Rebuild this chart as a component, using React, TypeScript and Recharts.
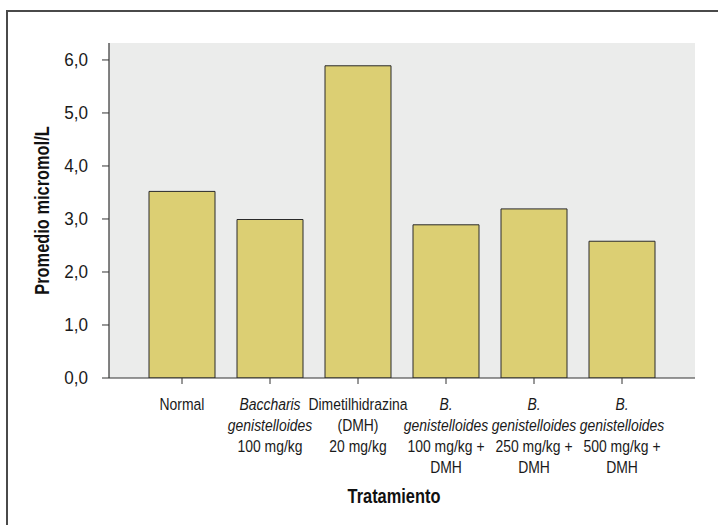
import React from 'react';
import { BarChart, Bar, XAxis, YAxis, CartesianGrid, Label } from 'recharts';

const categories = ['normal', 'baccharis', 'dmh', 'bg100', 'bg250', 'bg500'];
const values = [3.52, 2.99, 5.89, 2.89, 3.19, 2.58];
const tickLines: { t: string; i: boolean }[][] = [
  [{ t: 'Normal', i: false }],
  [{ t: 'Baccharis', i: true }, { t: 'genistelloides', i: true }, { t: '100 mg/kg', i: false }],
  [{ t: 'Dimetilhidrazina', i: false }, { t: '(DMH)', i: false }, { t: '20 mg/kg', i: false }],
  [{ t: 'B.', i: true }, { t: 'genistelloides', i: true }, { t: '100 mg/kg +', i: false }, { t: 'DMH', i: false }],
  [{ t: 'B.', i: true }, { t: 'genistelloides', i: true }, { t: '250 mg/kg +', i: false }, { t: 'DMH', i: false }],
  [{ t: 'B.', i: true }, { t: 'genistelloides', i: true }, { t: '500 mg/kg +', i: false }, { t: 'DMH', i: false }],
];
const yTicks = [0, 1, 2, 3, 4, 5, 6];
const xTitle = 'Tratamiento';
const yTitle = 'Promedio micromol/L';

const data = categories.map((c, idx) => ({ cat: c, value: values[idx] }));

const FONT = "'Liberation Sans', Arial, sans-serif";
const NARROW = 0.82;

const XTick = (props: any) => {
  const { x, y, payload } = props;
  const idx = categories.indexOf(payload.value);
  const lines = tickLines[idx] || [];
  return (
    <g transform={`translate(${x},${y}) scale(${NARROW},1)`}>
      <text x={0} y={0} textAnchor="middle" fontFamily={FONT} fontSize={17} fill="#1a1a1a">
        {lines.map((l, k) => (
          <tspan key={k} x={0} y={24 + k * 21} fontStyle={l.i ? 'italic' : 'normal'}>
            {l.t}
          </tspan>
        ))}
      </text>
    </g>
  );
};

const YTick = (props: any) => {
  const { x, y, payload } = props;
  const label = Number(payload.value).toFixed(1).replace('.', ',');
  return (
    <g transform={`translate(${x},${y}) scale(0.95,1)`}>
      <text x={0} y={0} dy="0.36em" textAnchor="end" fontFamily={FONT} fontSize={18} fill="#1a1a1a">
        {label}
      </text>
    </g>
  );
};

const XTitle = (props: any) => {
  const vb = props.viewBox || {};
  const cx = vb.x + vb.width / 2 - 8;
  const by = vb.y + 125;
  return (
    <g transform={`translate(${cx},${by}) scale(${NARROW},1)`}>
      <text x={0} y={0} textAnchor="middle" fontFamily={FONT} fontSize={20} fontWeight={700} fill="#111">
        {xTitle}
      </text>
    </g>
  );
};

const YTitle = (props: any) => {
  const vb = props.viewBox || {};
  const cx = vb.x + 42;
  const cy = vb.y + vb.height / 2;
  return (
    <g transform={`translate(${cx},${cy}) rotate(-90) scale(${NARROW},1)`}>
      <text x={0} y={0} dy="0.36em" textAnchor="middle" fontFamily={FONT} fontSize={20} fontWeight={700} fill="#111">
        {yTitle}
      </text>
    </g>
  );
};

export default function App() {
  return (
    <div style={{ position: 'fixed', left: 0, top: 0, width: 718, height: 525, overflow: 'hidden', background: '#fff' }}>
      <div style={{ position: 'absolute', left: 6, top: 10, width: 760, height: 560, borderLeft: '2px solid #4a4a4a', borderTop: '2px solid #4a4a4a' }} />
      <div style={{ position: 'absolute', left: 0, top: 0 }}>
        <BarChart width={718} height={525} data={data} margin={{ top: 43, right: 23, bottom: 0, left: 0 }}>
          <CartesianGrid horizontal={false} vertical={false} fill="#ebeceb" />
          <XAxis
            dataKey="cat"
            height={147}
            padding={{ left: 29, right: 29 }}
            tick={<XTick />}
            tickSize={6}
            tickLine={{ stroke: '#333' }}
            axisLine={{ stroke: '#333', strokeWidth: 1.2 }}
            interval={0}
          >
            <Label content={<XTitle />} />
          </XAxis>
          <XAxis xAxisId="top" orientation="top" height={0} tick={false} tickLine={false} axisLine={{ stroke: '#333', strokeWidth: 1.2 }} />
          <YAxis
            width={109}
            domain={[0, 6.32]}
            ticks={yTicks}
            tickSize={7}
            tickMargin={14}
            tick={<YTick />}
            tickLine={{ stroke: '#333' }}
            axisLine={{ stroke: '#333', strokeWidth: 1.2 }}
            allowDataOverflow
          >
            <Label content={<YTitle />} />
          </YAxis>
          <YAxis yAxisId="right" orientation="right" width={0} tick={false} tickLine={false} axisLine={{ stroke: '#333', strokeWidth: 1.2 }} domain={[0, 6.32]} />
          <Bar dataKey="value" fill="#dccf73" stroke="#2a2a2a" strokeWidth={1} barSize={66} isAnimationActive={false} />
        </BarChart>
      </div>
    </div>
  );
}
